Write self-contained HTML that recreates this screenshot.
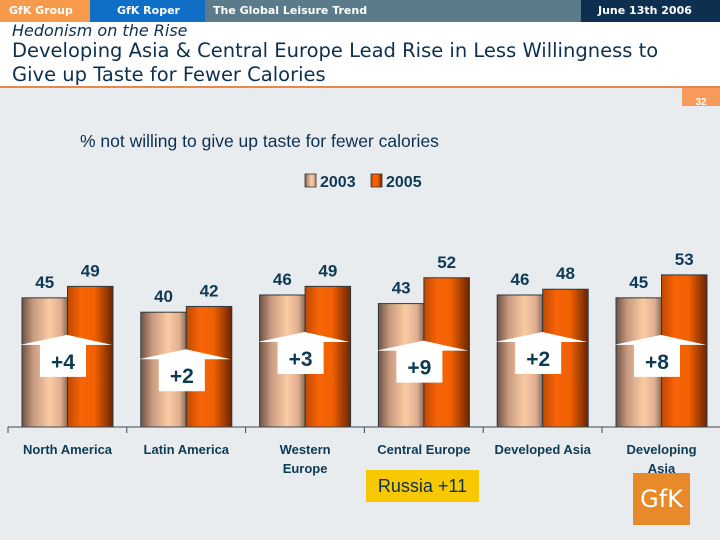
<!DOCTYPE html>
<html><head><meta charset="utf-8"><style>
body{margin:0;width:720px;height:540px;overflow:hidden;background:#e9ecee;font-family:"Liberation Sans","DejaVu Sans",sans-serif;position:relative}
.hb{position:absolute;top:0;height:22px;color:#fff;font:bold 11px "DejaVu Sans",sans-serif;line-height:22px}
</style></head><body>
<div class="hb" style="left:0;width:90px;background:#f79a4c;padding-left:9px;box-sizing:border-box">GfK Group</div>
<div class="hb" style="left:90px;width:115px;background:#0f6fc6;padding-left:27px;box-sizing:border-box">GfK Roper</div>
<div class="hb" style="left:205px;width:376px;background:#5b7b8a;padding-left:8px;box-sizing:border-box">The Global Leisure Trend</div>
<div class="hb" style="left:581px;width:139px;background:#0d3050;padding-left:17px;box-sizing:border-box">June 13th 2006</div>
<div style="position:absolute;top:22px;left:0;width:720px;height:64px;background:#fff;border-bottom:2px solid #e8894a;color:#0d3050;font-family:'DejaVu Sans',sans-serif">
<div style="position:absolute;left:12px;top:-1px;font-size:16px;font-style:italic">Hedonism on the Rise</div>
<div style="position:absolute;left:12px;top:17px;font-size:19.5px;line-height:24px;width:680px">Developing Asia &amp; Central Europe Lead Rise in Less Willingness to Give up Taste for Fewer Calories</div>
</div>
<div style="position:absolute;left:682px;top:88px;width:38px;height:18px;background:#f79a5a;color:#fff;font-size:10px;font-weight:bold;text-align:center;line-height:30px;overflow:hidden">32</div>
<div style="position:absolute;left:80px;top:131px;font-size:17.5px;color:#0d3050">% not willing to give up taste for fewer calories</div>
<svg id="chart" width="720" height="540" style="position:absolute;left:0;top:0">
<defs>
<linearGradient id="g3" x1="0" x2="1"><stop offset="0" stop-color="#6e5244"/><stop offset="0.25" stop-color="#c89a80"/><stop offset="0.6" stop-color="#fbcba3"/><stop offset="0.85" stop-color="#e0ae90"/><stop offset="1" stop-color="#8a6a58"/></linearGradient>
<linearGradient id="g5" x1="0" x2="1"><stop offset="0" stop-color="#c04800"/><stop offset="0.3" stop-color="#f86408"/><stop offset="0.6" stop-color="#f06000"/><stop offset="1" stop-color="#6a2400"/></linearGradient>
</defs>
</svg>
<div style="position:absolute;left:366px;top:470px;width:113px;height:32px;background:#f8c800;color:#0d3050;font-size:18px;text-align:center;line-height:33px">Russia +11</div>
<div style="position:absolute;left:633px;top:473px;width:57px;height:52px;background:#e88a2a;color:#fff;font:24px 'DejaVu Sans',sans-serif;text-align:center;line-height:52px">GfK</div>
<script>
const categories=[["North America"],["Latin America"],["Western","Europe"],["Central Europe"],["Developed Asia"],["Developing","Asia"]];
const values2003=[45,40,46,43,46,45];
const values2005=[49,42,49,52,48,53];
const seriesNames=["2003","2005"];
const svg=document.getElementById('chart');
const NS='http://www.w3.org/2000/svg';
const base=427,k=2.87,gw=118.8,x0=22,bw=45.5;
const y=v=>base-v*k;
const gx=i=>x0+gw*i;
function mk(t,a,p){const e=document.createElementNS(NS,t);for(const n in a)e.setAttribute(n,a[n]);(p||svg).appendChild(e);return e;}
const col='#0d3a55';
categories.forEach((c,i)=>{
 [values2003[i],values2005[i]].forEach((v,s)=>{
  const r=mk('rect',{x:gx(i)+s*bw,y:y(v),width:bw,height:v*k,fill:s?'url(#g5)':'url(#g3)',stroke:'#2a3a40','stroke-width':1});
  
  
  const t=mk('text',{x:gx(i)+s*bw+bw/2,y:y(v)-10,'text-anchor':'middle','font-size':17,'font-weight':'bold',fill:col});
  t.textContent=v;
  
  
 });
 const tip=y(values2003[i])+37, sx=gx(i);
 const g=mk('g',{});
 
 
 mk('polygon',{points:`${sx-2},${tip+10} ${sx+45},${tip} ${sx+90},${tip+10} ${sx+64},${tip+10} ${sx+64},${tip+42} ${sx+18},${tip+42} ${sx+18},${tip+10}`,fill:'#fff'},g);
 const dt=mk('text',{x:sx+41,y:tip+34,'text-anchor':'middle','font-size':21,'font-weight':'bold',fill:col},g);
 dt.textContent='+'+(values2005[i]-values2003[i]);
 c.forEach((ln,j)=>{
  const t=mk('text',{x:gx(i)+bw,y:454+j*19,'text-anchor':'middle','font-size':13,'font-weight':'bold',fill:col});
  t.textContent=ln;
  
  
 });
});
const ax=mk('line',{x1:8,x2:720,y1:base,y2:base,stroke:'#3a4a55'});


for(let i=0;i<=6;i++)mk('line',{x1:8+gw*i,x2:8+gw*i,y1:base,y2:base+6,stroke:'#3a4a55'});
[['url(#g3)',305,'2003'],['url(#g5)',371,'2005']].forEach(([f,x,l])=>{
 const r=mk('rect',{x:x,y:174,width:11,height:13,fill:f,stroke:'#333','stroke-width':0.8});
 
 
 const t=mk('text',{x:x+15,y:187,'font-size':16,'font-weight':'bold',fill:col});
 t.textContent=l;
 
 
});
</script>
</body></html>
